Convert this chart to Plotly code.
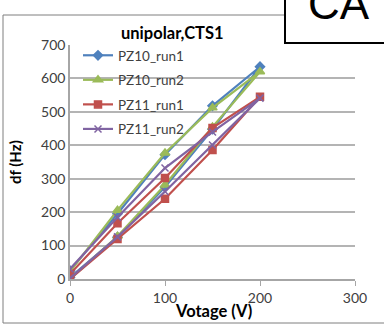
import plotly.graph_objects as go

# ---- data ----
voltage = [0, 50, 100, 150, 200, 150, 100, 50, 0]
pz10_run1 = [5, 125, 275, 448, 635, 518, 372, 195, 25]
pz10_run2 = [0, 128, 281, 455, 620, 512, 377, 206, 22]
pz11_run1 = [0, 120, 240, 386, 545, 452, 302, 167, 15]
pz11_run2 = [2, 126, 262, 401, 541, 440, 332, 185, 30]
series_names = ["PZ10_run1", "PZ10_run2", "PZ11_run1", "PZ11_run2"]
x_ticks = [0, 100, 200, 300]
y_ticks = [0, 100, 200, 300, 400, 500, 600, 700]

W, H = 384, 325
L, R, T, B = 70, 355, 45, 279  # plot area in pixels


def px(x):
    return (x - L) / (R - L)


def py(y):
    return (B - y) / (B - T)


FONT = "Lato"
fig = go.Figure()
styles = [
    ("#4F81BD", "diamond", 7),
    ("#9BBB59", "triangle-up", 8),
    ("#C0504D", "square", 7),
    ("#8064A2", "x-thin-open", 7),
]
for name, vals, (col, sym, sz) in zip(series_names, [pz10_run1, pz10_run2, pz11_run1, pz11_run2], styles):
    fig.add_trace(go.Scatter(
        x=voltage, y=vals, name=name, mode="lines+markers",
        line=dict(color=col, width=2.2),
        marker=dict(symbol=sym, size=sz, color=col, line=dict(color=col, width=1.5)),
        legendgroup=name,
    ))

fig.update_layout(
    width=W, height=H,
    margin=dict(l=L, r=W - R, t=T, b=H - B),
    paper_bgcolor="white", plot_bgcolor="white",
    font=dict(family=FONT, color="#404040"),
    showlegend=True,
    legend=dict(x=px(78), y=py(40), xanchor="left", yanchor="top",
                bgcolor="rgba(0,0,0,0)", font=dict(size=13.5, color="#404040"),
                tracegroupgap=4, itemwidth=30),
    xaxis=dict(range=[0, 300], tickvals=x_ticks, showgrid=False, zeroline=False,
               showline=True, linecolor="#A6A6A6", linewidth=1.5,
               ticks="outside", ticklen=5, tickcolor="#A6A6A6",
               tickfont=dict(size=14, color="#404040")),
    yaxis=dict(range=[0, 700], tickvals=y_ticks, showgrid=True, gridcolor="#B4B4B4",
               gridwidth=1.5, zeroline=False, showline=True, linecolor="#A6A6A6",
               linewidth=1.5, ticks="", tickfont=dict(size=14, color="#404040")),
)

# chart border
fig.add_shape(type="rect", xref="paper", yref="paper",
              x0=px(3), y0=py(323), x1=px(400), y1=py(15),
              line=dict(color="#7F7F7F", width=1), layer="below")
# top-right box
fig.add_shape(type="rect", xref="paper", yref="paper",
              x0=px(285), y0=py(43), x1=px(400), y1=py(-5),
              line=dict(color="black", width=2), fillcolor="white", layer="above")

fig.add_annotation(text="CA", xref="paper", yref="paper", x=px(306), y=py(30),
                   xanchor="left", yanchor="bottom", showarrow=False,
                   font=dict(family="Liberation Sans", size=44, color="black"))
fig.add_annotation(text="<b>unipolar,CTS1</b>", xref="paper", yref="paper",
                   x=px(172), y=py(33), xanchor="center", yanchor="middle", showarrow=False,
                   font=dict(family=FONT, size=16.5, color="black"))
fig.add_annotation(text="<b>Votage (V)</b>", xref="paper", yref="paper",
                   x=px(213), y=py(311), xanchor="center", yanchor="middle", showarrow=False,
                   font=dict(family=FONT, size=16.5, color="black"))
fig.add_annotation(text="<b>df (Hz)</b>", xref="paper", yref="paper",
                   x=px(15), y=py(162), xanchor="center", yanchor="middle", showarrow=False,
                   textangle=-90, font=dict(family=FONT, size=15, color="black"))

fig.write_html("out.html")
